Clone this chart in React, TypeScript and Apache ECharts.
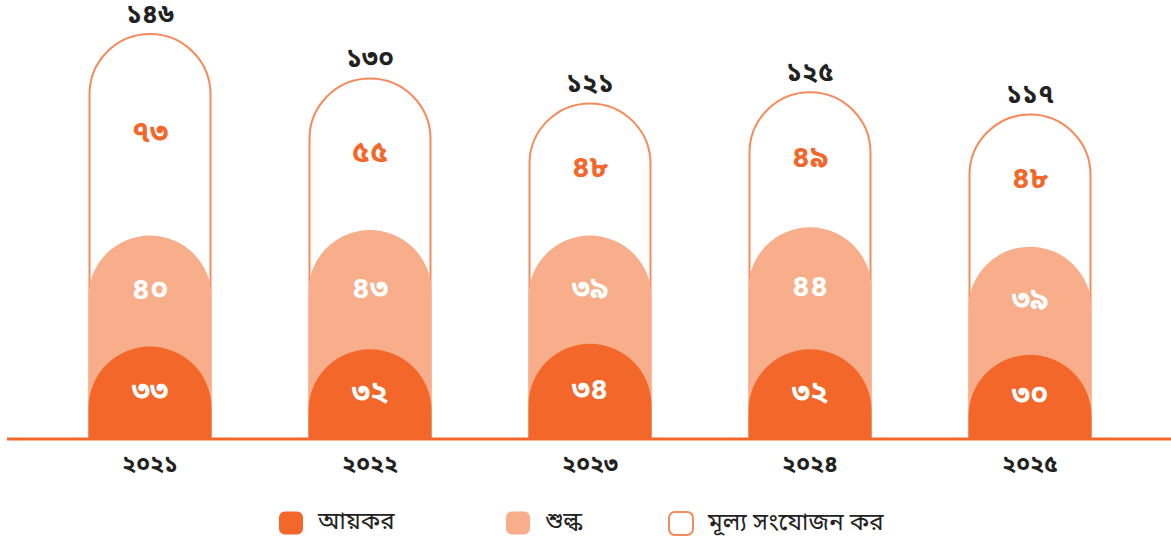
import React, { useEffect, useRef } from "react";
import * as echarts from "echarts";

const years = ["২০২১", "২০২২", "২০২৩", "২০২৪", "২০২৫"];
const incomeTax = [33, 32, 34, 32, 30];
const customs = [40, 43, 39, 44, 39];
const vat = [73, 55, 48, 49, 48];
const legendNames = ["আয়কর", "শুল্ক", "মূল্য সংযোজন কর"];

const BN = ["০", "১", "২", "৩", "৪", "৫", "৬", "৭", "৮", "৯"];
const toBn = (n: number) => String(n).replace(/[0-9]/g, (d) => BN[+d]);

const C_TAX = "#F3672A";
const C_CUS = "#F8AE8A";
const C_VAT = "#F58B5C";
const FONT = "'Noto Sans Bengali', 'Noto Sans', sans-serif";

export default function App() {
  const ref = useRef<HTMLDivElement>(null);
  useEffect(() => {
    if (!ref.current) return;
    const chart = echarts.init(ref.current, undefined, { renderer: "svg" });
    const cusTop = customs.map((v, i) => v + incomeTax[i]);
    const total = vat.map((v, i) => v + cusTop[i]);
    const R = 61.5;
    const gridTop = 22;
    const gridBottom = 106;
    const baseY = 544 - gridBottom;
    const legendLeft = [274, 501, 663];
    chart.setOption({
      animation: false,
      textStyle: { fontFamily: FONT },
      grid: { left: 40, right: 31, top: gridTop, bottom: gridBottom },
      legend: legendNames.map((n, i) => ({
        data: [n],
        top: 506,
        left: legendLeft[i],
        itemWidth: 24,
        itemHeight: 23,
        icon: "roundRect",
        textStyle: { fontSize: 24, color: "#222", fontFamily: FONT, padding: [0, 0, 0, 10] },
      })),
      xAxis: {
        type: "category",
        data: years,
        axisLine: { show: false },
        axisTick: { show: false },
        axisLabel: { fontSize: 23, fontWeight: "bold", color: "#222", margin: 16, fontFamily: FONT },
      },
      yAxis: { type: "value", min: 0, max: 150, show: false, splitLine: { show: false } },
      graphic: [
        {
          type: "line",
          shape: { x1: 7, y1: baseY + 1, x2: 1171, y2: baseY + 1 },
          style: { stroke: C_TAX, lineWidth: 3 },
          z: 10,
        },
      ],
      series: [
        {
          name: "মূল্য সংযোজন কর",
          type: "bar",
          data: total,
          barWidth: 123,
          barGap: "-100%",
          itemStyle: { color: "#fff", borderColor: C_VAT, borderWidth: 2, borderRadius: [R, R, 0, 0] },
          label: {
            show: true,
            position: "top",
            distance: 4,
            formatter: (p: any) => toBn(p.value),
            fontSize: 26,
            fontWeight: "bold",
            color: "#222",
            fontFamily: FONT,
          },
        },
        {
          name: "শুল্ক",
          type: "bar",
          data: cusTop,
          barWidth: 123,
          barGap: "-100%",
          itemStyle: { color: C_CUS, borderRadius: [R, R, 0, 0] },
        },
        {
          name: "আয়কর",
          type: "bar",
          data: incomeTax,
          barWidth: 123,
          barGap: "-100%",
          itemStyle: { color: C_TAX, borderRadius: [R, R, 0, 0] },
        },
        ...[incomeTax, customs, vat].map((arr, k) => ({
          name: "lbl" + k,
          type: "bar",
          stack: "lbl",
          data: arr,
          barWidth: 123,
          barGap: "-100%",
          silent: true,
          itemStyle: { color: "rgba(0,0,0,0)" },
          label: {
            show: true,
            position: "inside",
            formatter: (p: any) => toBn(p.value),
            fontSize: 30,
            fontWeight: "bold",
            color: k === 2 ? C_TAX : "#fff",
            fontFamily: FONT,
          },
        })),
      ],
    });
    return () => chart.dispose();
  }, []);
  return (
    <div
      ref={ref}
      style={{ position: "absolute", left: 0, top: 0, width: 1171, height: 544 }}
    />
  );
}
